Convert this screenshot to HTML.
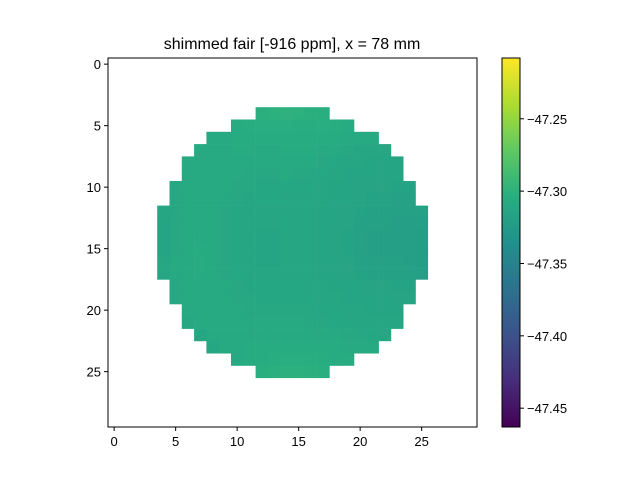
<!DOCTYPE html>
<html><head><meta charset="utf-8"><style>
body{margin:0;background:#fff;font-family:"Liberation Sans","DejaVu Sans",sans-serif}
</style></head><body>
<svg id="chart" width="640" height="480" xmlns="http://www.w3.org/2000/svg">
<rect width="640" height="480" fill="#fff"/>
<text x="292" y="49" text-anchor="middle" font-size="16" fill="#000">shimmed fair [-916 ppm], x = 78 mm</text>
<g id="cells"></g>
<rect x="108" y="58" width="369" height="369" fill="none" stroke="#000" stroke-width="1"/>
<g id="axes" font-size="13" fill="#000"></g>
<defs><linearGradient id="vg" x1="0" y1="1" x2="0" y2="0" id2="">
<stop offset="0" stop-color="#440154"/><stop offset="0.125" stop-color="#472d7b"/><stop offset="0.25" stop-color="#3b528b"/><stop offset="0.375" stop-color="#2c728e"/><stop offset="0.5" stop-color="#21918c"/><stop offset="0.625" stop-color="#28ae80"/><stop offset="0.75" stop-color="#5ec962"/><stop offset="0.875" stop-color="#addc30"/><stop offset="1" stop-color="#fde725"/>
</linearGradient></defs>
<rect x="502" y="58" width="18" height="369" fill="url(#vg)" stroke="#000" stroke-width="1"/>
<g id="cbar" font-size="13"></g>
</svg>
<script>
const rowIndex=[4,5,6,7,8,9,10,11,12,13,14,15,16,17,18,19,20,21,22,23,24,25];
const rowStart=[12,10,8,7,6,6,5,5,4,4,4,4,4,4,5,5,6,6,7,8,10,12];
// offsets in thousandths below -47.300
const rowOffsets=[
[2,1,0,1,2,3],
[6,5,4,4,4,5,5,4,5,6],
[8,8,7,6,6,7,6,6,6,6,7,8,9,9],
[9,8,8,7,7,8,8,7,7,7,8,9,10,11,12,12],
[9,8,8,8,9,9,9,8,8,9,9,10,11,12,12,13,13,13],
[9,8,8,8,9,10,10,10,9,10,10,11,12,13,13,14,14,14],
[10,9,8,8,9,10,10,11,11,11,11,11,12,13,14,15,15,15,16,16],
[10,9,8,8,9,10,11,11,11,12,12,12,12,13,14,15,16,16,17,17],
[12,10,9,8,8,10,11,12,12,12,12,12,12,13,14,15,16,17,17,18,18,18],
[13,10,9,8,8,10,11,12,12,12,11,12,12,13,14,15,17,18,18,19,19,19],
[13,10,8,8,8,10,11,12,13,13,12,12,12,13,15,16,18,19,19,19,19,20],
[13,10,8,7,8,10,11,12,13,13,12,12,12,13,15,16,18,19,19,19,19,20],
[12,9,8,7,8,10,11,12,13,13,12,12,12,13,14,15,17,18,18,18,19,20],
[12,9,8,7,8,10,11,11,12,12,12,12,12,13,14,15,16,17,17,17,18,19],
[10,9,8,8,9,10,11,11,11,11,11,12,12,13,14,14,15,15,16,16],
[10,9,8,8,9,10,10,11,11,11,11,11,12,12,13,13,14,14,15,15],
[9,8,8,9,9,10,10,10,10,10,10,11,11,12,12,13,13,13],
[10,9,9,9,9,9,9,9,9,9,10,10,11,11,12,12,12,12],
[11,9,8,8,8,8,8,8,8,8,9,9,10,10,11,11],
[11,9,8,7,7,6,6,6,6,7,7,8,8,9],
[8,7,6,5,4,4,4,5,6,7],
[3,2,1,1,2,3]];
const vmin=-47.463, vmax=-47.208;
const xTicks=[0,5,10,15,20,25], yTicks=[0,5,10,15,20,25];
const cbTicks=[-47.25,-47.30,-47.35,-47.40,-47.45];
const X=v=>108+(v+0.5)*369/30, Y=v=>58+(v+0.5)*369/30;
const CB=v=>427-(v-vmin)/(vmax-vmin)*369;
const stops=[[68,1,84],[71,45,123],[59,82,139],[44,114,142],[33,145,140],[40,174,128],[94,201,98],[173,220,48],[253,231,37]];
function viridis(t){t=Math.max(0,Math.min(1,t))*8;const i=Math.min(7,Math.floor(t)),f=t-i;const a=stops[i],b=stops[i+1];
return 'rgb('+a.map((c,k)=>Math.round(c+(b[k]-c)*f)).join(',')+')';}
const NS='http://www.w3.org/2000/svg';
const cells=document.getElementById('cells');
rowIndex.forEach((r,ri)=>{rowOffsets[ri].forEach((d,ci)=>{const c=rowStart[ri]+ci;const v=-47.3-d/1000;
const el=document.createElementNS(NS,'rect');
el.setAttribute('x',X(c-0.5));el.setAttribute('y',Y(r-0.5));el.setAttribute('width',369/30+0.3);el.setAttribute('height',369/30+0.3);
el.setAttribute('fill',viridis((v-vmin)/(vmax-vmin)));


cells.appendChild(el);});});
const axes=document.getElementById('axes');
function add(parent,tag,attrs,text){const e=document.createElementNS(NS,tag);for(const k in attrs)e.setAttribute(k,attrs[k]);if(text!==undefined)e.textContent=text;parent.appendChild(e);return e;}
xTicks.forEach(t=>{const x=X(t);
const l=add(axes,'line',{x1:x,x2:x,y1:427,y2:431,stroke:'#000'});


const tx=add(axes,'text',{x:x,y:446,'text-anchor':'middle'},String(t));

});
yTicks.forEach(t=>{const y=Y(t);
const l=add(axes,'line',{x1:104,x2:108,y1:y,y2:y,stroke:'#000'});


const tx=add(axes,'text',{x:101,y:y+5,'text-anchor':'end'},String(t));

});
const cb=document.getElementById('cbar');
cbTicks.forEach(t=>{const y=CB(t);
const l=add(cb,'line',{x1:520,x2:524,y1:y,y2:y,stroke:'#000'});


const tx=add(cb,'text',{x:527,y:y+5},'\u2212'+Math.abs(t).toFixed(2));

});
</script>
</body></html>
